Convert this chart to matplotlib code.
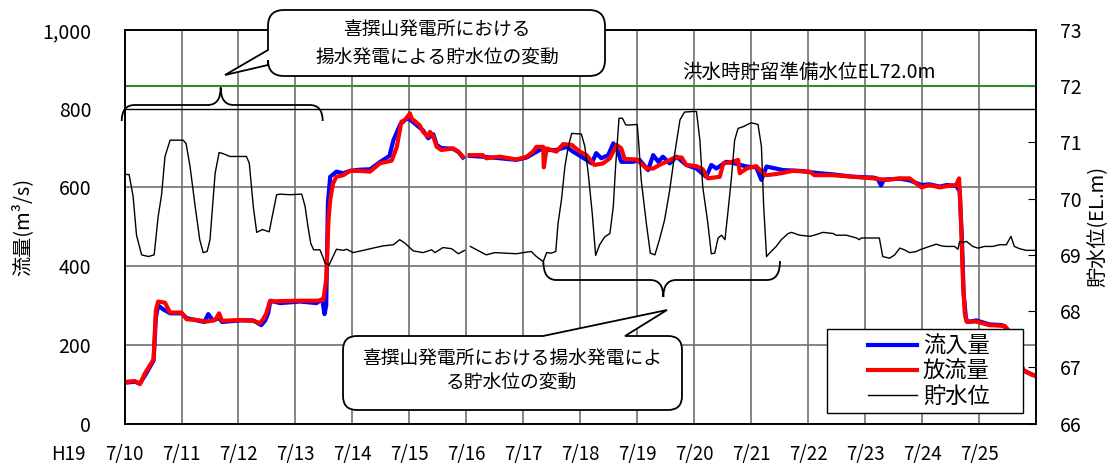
import numpy as np
import matplotlib
matplotlib.use("Agg")
import matplotlib.pyplot as plt
from matplotlib.path import Path
from matplotlib.patches import PathPatch, Rectangle

plt.rcParams['font.family'] = ['Noto Sans CJK JP', 'DejaVu Sans']

# x = days after H19 7/10 0:00
day_labels = ['7/%d' % d for d in range(10, 26)]

# 放流量 (m3/s)
outflow = [(0.03, 106), (0.18, 108), (0.27, 100), (0.36, 128), (0.45, 149), (0.51, 163),
           (0.55, 288), (0.59, 310), (0.71, 307), (0.80, 282), (1.00, 282), (1.09, 265),
           (1.27, 263), (1.44, 259), (1.59, 263), (1.66, 280), (1.71, 261), (2.03, 263),
           (2.26, 261), (2.38, 255), (2.44, 267), (2.49, 280), (2.55, 310), (2.73, 311),
           (3.08, 312), (3.37, 312), (3.49, 314), (3.54, 365), (3.58, 517), (3.61, 568),
           (3.66, 610), (3.72, 627), (3.84, 631), (3.96, 642), (4.13, 642), (4.31, 640),
           (4.48, 661), (4.69, 668), (4.78, 703), (4.86, 767), (4.92, 771), (5.01, 788),
           (5.04, 775), (5.18, 758), (5.24, 741), (5.33, 729), (5.36, 741), (5.42, 729),
           (5.48, 703), (5.56, 695), (5.77, 699), (5.86, 691), (5.94, 678), (6.00, np.nan),
           (6.06, 682), (6.29, 682), (6.35, 674), (6.59, 678), (6.88, 671), (7.06, 678),
           (7.17, 691), (7.23, 703), (7.35, 703), (7.36, 651), (7.41, 699), (7.58, 691),
           (7.70, 710), (7.85, 708), (7.99, 691), (8.11, 682), (8.25, 657), (8.40, 661),
           (8.52, 674), (8.64, 708), (8.72, 699), (8.78, 672), (8.99, 671), (9.16, 648),
           (9.28, 648), (9.39, 657), (9.51, 665), (9.66, 676), (9.78, 676), (9.86, 657),
           (10.04, 654), (10.15, 646), (10.24, 623), (10.45, 627), (10.51, 661), (10.68, 665),
           (10.77, 670), (10.80, 636), (10.92, 648), (11.09, 654), (11.21, 636), (11.27, 631),
           (11.44, 634), (11.56, 637), (11.73, 642), (12.03, 640), (12.11, 631), (12.44, 631),
           (12.79, 627), (13.14, 623), (13.37, 619), (13.61, 623), (13.78, 623), (13.99, 600),
           (14.13, 606), (14.31, 600), (14.43, 603), (14.60, 606), (14.65, 623), (14.67, 568),
           (14.72, 356), (14.75, 280), (14.78, 259), (14.95, 259), (15.18, 250), (15.45, 248),
           (15.51, 238), (15.65, 180), (15.78, 136), (15.94, 123), (16.00, 122)]

# 流入量 (m3/s)
inflow = [(0.03, 104), (0.18, 106), (0.27, 102), (0.36, 122), (0.45, 145), (0.51, 160),
          (0.55, 270), (0.59, 300), (0.68, 290), (0.80, 280), (1.00, 280), (1.09, 268),
          (1.27, 262), (1.40, 258), (1.47, 278), (1.55, 262), (1.66, 268), (1.71, 258),
          (2.03, 262), (2.26, 262), (2.40, 250), (2.47, 262), (2.52, 280), (2.56, 312),
          (2.73, 306), (3.08, 310), (3.37, 306), (3.47, 316), (3.51, 278), (3.54, 300),
          (3.57, 560), (3.61, 627), (3.72, 640), (3.84, 636), (3.96, 642), (4.13, 645),
          (4.31, 646), (4.48, 664), (4.65, 680), (4.72, 720), (4.84, 760), (4.95, 775),
          (5.03, 770), (5.18, 752), (5.24, 745), (5.33, 725), (5.42, 735), (5.48, 708),
          (5.56, 700), (5.77, 698), (5.86, 690), (5.94, 676), (6.00, np.nan), (6.06, 680),
          (6.29, 678), (6.59, 674), (6.88, 670), (7.06, 676), (7.20, 688), (7.35, 700),
          (7.41, 695), (7.58, 695), (7.76, 703), (7.87, 691), (8.02, 678), (8.20, 661),
          (8.28, 687), (8.37, 674), (8.49, 682), (8.58, 712), (8.66, 691), (8.72, 665),
          (8.93, 665), (9.04, 670), (9.19, 644), (9.28, 682), (9.37, 665), (9.45, 678),
          (9.57, 661), (9.69, 678), (9.86, 657), (10.04, 648), (10.21, 627), (10.30, 657),
          (10.39, 648), (10.56, 665), (10.71, 661), (10.92, 653), (11.09, 651), (11.18, 619),
          (11.27, 653), (11.56, 644), (11.85, 642), (12.20, 636), (12.44, 633), (12.79, 627),
          (13.14, 625), (13.22, 622), (13.28, 605), (13.33, 620), (13.61, 622), (13.78, 618),
          (13.99, 606), (14.13, 608), (14.31, 602), (14.43, 606), (14.60, 604), (14.66, 590),
          (14.70, 470), (14.73, 330), (14.77, 268), (14.80, 258), (14.95, 262), (15.18, 252),
          (15.40, 250), (15.45, 246), (15.51, 236), (15.65, 180), (15.78, 134), (15.94, 124),
          (16.00, 120)]

# 貯水位 (EL.m)
level = [(0.03, 70.43), (0.08, 70.43), (0.15, 70.04), (0.21, 69.35), (0.30, 69.00), (0.42, 68.97),
         (0.52, 69.00), (0.59, 69.68), (0.65, 70.07), (0.71, 70.75), (0.80, 71.04), (1.03, 71.04),
         (1.08, 70.98), (1.15, 70.57), (1.24, 69.86), (1.32, 69.27), (1.38, 69.04), (1.45, 69.06),
         (1.50, 69.27), (1.59, 70.45), (1.66, 70.82), (1.73, 70.80), (1.85, 70.75), (2.14, 70.75),
         (2.19, 70.63), (2.26, 69.86), (2.32, 69.40), (2.42, 69.45), (2.54, 69.41), (2.58, 69.62),
         (2.67, 70.07), (2.73, 70.08), (2.90, 70.07), (3.11, 70.08), (3.17, 69.86), (3.22, 69.50),
         (3.27, 69.20), (3.32, 69.09), (3.43, 69.09), (3.49, 68.94), (3.52, 68.85), (3.59, 68.82),
         (3.66, 68.97), (3.72, 69.10), (3.84, 69.08), (3.90, 69.10), (4.01, 69.04), (4.19, 69.08),
         (4.36, 69.12), (4.54, 69.16), (4.72, 69.18), (4.83, 69.27), (4.92, 69.21), (5.07, 69.07),
         (5.24, 69.04), (5.39, 69.09), (5.45, 69.04), (5.59, 69.13), (5.74, 69.11), (5.86, 69.02),
         (5.97, 69.08), (6.02, np.nan), (6.07, 69.15), (6.24, 69.06), (6.35, 69.00), (6.50, 69.04),
         (6.71, 69.03), (6.88, 69.02), (7.00, 69.04), (7.14, 69.06), (7.23, 68.97), (7.35, 68.88),
         (7.41, 69.04), (7.49, 69.03), (7.57, 69.06), (7.61, 69.56), (7.67, 69.98), (7.73, 70.57),
         (7.79, 70.93), (7.85, 71.16), (8.02, 71.15), (8.08, 70.93), (8.14, 70.45), (8.21, 69.74),
         (8.27, 68.99), (8.34, 69.18), (8.43, 69.32), (8.52, 69.38), (8.58, 69.86), (8.62, 70.57),
         (8.68, 71.43), (8.74, 71.43), (8.80, 71.31), (8.87, 71.31), (9.00, 71.32), (9.03, 70.93),
         (9.07, 70.33), (9.16, 69.56), (9.23, 69.03), (9.31, 69.00), (9.39, 69.27), (9.48, 69.62),
         (9.57, 70.15), (9.66, 70.81), (9.75, 71.40), (9.83, 71.54), (9.98, 71.55), (10.04, 71.55),
         (10.10, 71.04), (10.15, 70.21), (10.24, 69.56), (10.30, 69.02), (10.36, 69.03), (10.42, 69.30),
         (10.48, 69.35), (10.54, 69.27), (10.59, 69.74), (10.65, 70.33), (10.71, 71.04), (10.77, 71.25),
         (10.86, 71.28), (11.00, 71.35), (11.12, 71.32), (11.18, 70.93), (11.22, 69.86), (11.27, 68.97),
         (11.35, 69.06), (11.44, 69.15), (11.53, 69.27), (11.65, 69.38), (11.71, 69.40), (11.85, 69.35),
         (12.03, 69.33), (12.11, 69.35), (12.26, 69.40), (12.44, 69.38), (12.49, 69.35), (12.67, 69.35),
         (12.85, 69.30), (12.90, 69.27), (12.93, 69.30), (13.14, 69.30), (13.25, 69.30), (13.31, 68.97),
         (13.43, 68.94), (13.52, 69.00), (13.61, 69.12), (13.69, 69.09), (13.78, 69.04), (13.90, 69.06),
         (13.96, 69.09), (14.13, 69.15), (14.25, 69.19), (14.34, 69.16), (14.42, 69.15), (14.57, 69.15),
         (14.63, 69.10), (14.66, 69.24), (14.72, 69.22), (14.78, 69.24), (14.89, 69.15), (14.98, 69.12),
         (15.10, 69.15), (15.24, 69.15), (15.36, 69.18), (15.48, 69.18), (15.56, 69.33), (15.62, 69.15),
         (15.71, 69.11), (15.83, 69.08), (15.97, 69.08)]

flood_level = 72.0

note_top = '喜撰山発電所における\n揚水発電による貯水位の変動'
note_bottom = '喜撰山発電所における揚水発電によ\nる貯水位の変動'

grid_c = '#707070'

fig = plt.figure(figsize=(11.16, 4.67), dpi=100)
ax1 = fig.add_axes([0.1116, 0.0931, 0.8167, 0.8427])
ax2 = ax1.twinx()

d_in, q_in = np.array(inflow).T
d_out, q_out = np.array(outflow).T
d_lv, el = np.array(level).T

l_in, = ax1.plot(d_in, q_in, color='#0000ff', lw=3.0, label='流入量', zorder=3)
l_out, = ax1.plot(d_out, q_out, color='#ff0000', lw=3.0, label='放流量', zorder=4)
l_lv, = ax2.plot(d_lv, el, color='black', lw=1.0, label='貯水位', zorder=3)

ax2.axhline(flood_level, color='#2e8b2e', lw=1.5, zorder=2)
ax2.text(14.24, flood_level + 0.05, '洪水時貯留準備水位EL72.0m', ha='right', va='bottom',
         fontsize=14)

ax1.set_xlim(0, 16)
ax1.set_ylim(0, 1000)
ax2.set_ylim(66, 73)
ax1.set_xticks(range(16))
ax1.set_xticklabels(day_labels, fontsize=13.5)
ax1.set_yticks(range(0, 1001, 200))
ax1.set_yticklabels(['0', '200', '400', '600', '800', '1,000'], fontsize=14)
ax2.set_yticks(range(66, 74))
ax2.set_yticklabels([str(v) for v in range(66, 74)], fontsize=14)

ax1.tick_params(axis='x', length=0, pad=15)
ax1.tick_params(axis='y', length=0, pad=24)
ax2.tick_params(axis='y', direction='in', length=6, pad=17)

ax1.grid(True, color=grid_c, lw=1.2)
ax1.set_axisbelow(True)
ax1.get_ygridlines()[4].set_color('black')
ax1.get_ygridlines()[4].set_linewidth(1.0)

for ax in (ax1, ax2):
    for s in ax.spines.values():
        s.set_color('black')
        s.set_linewidth(1.2)

ax1.set_ylabel('流量(m³/s)', fontsize=14.5)
ax2.set_ylabel('貯水位(EL.m)', fontsize=14.5)
ax1.yaxis.set_label_coords(-0.1005, 0.5)
ax2.yaxis.set_label_coords(1.056, 0.5)

fig.text(68 / 1116, 1 - 454 / 467, 'H19', ha='center', va='center', fontsize=13.5)

# legend box (frame drawn separately so the entries sit centred in a wide box)
ax2.add_patch(Rectangle((0.771, 0.027), 0.215, 0.213, transform=ax2.transAxes,
                        fc='white', ec='black', lw=1.0, zorder=9))
leg = ax2.legend(handles=[l_in, l_out, l_lv], loc='center',
                 bbox_to_anchor=(0.8826, 0.133), borderaxespad=0, fontsize=16,
                 frameon=False, handlelength=2.2, handletextpad=0.25, labelspacing=0.1,
                 borderpad=0)
leg.set_zorder(10)

# overlay in pixel units for the callouts and braces
ov = fig.add_axes([0, 0, 1, 1])
ov.set_xlim(0, 1116)
ov.set_ylim(467, 0)
ov.axis('off')


def callout(x0, y0, x1, y1, side, a, b, tip, r=13):
    v = [(x0 + r, y0)]
    c = [Path.MOVETO]
    if side == 'top':
        v += [(a, y0), tip, (b, y0)]
        c += [Path.LINETO] * 3
    v += [(x1 - r, y0), (x1, y0), (x1, y0 + r), (x1, y1 - r), (x1, y1), (x1 - r, y1),
          (x0 + r, y1), (x0, y1), (x0, y1 - r)]
    c += [Path.LINETO, Path.CURVE3, Path.CURVE3, Path.LINETO, Path.CURVE3, Path.CURVE3,
          Path.LINETO, Path.CURVE3, Path.CURVE3]
    if side == 'left':
        v += [(x0, b), tip, (x0, a)]
        c += [Path.LINETO] * 3
    v += [(x0, y0 + r), (x0, y0), (x0 + r, y0), (x0 + r, y0)]
    c += [Path.LINETO, Path.CURVE3, Path.CURVE3, Path.CLOSEPOLY]
    ov.add_patch(PathPatch(Path(v, c), fc='white', ec='black', lw=1.3, zorder=5))


def brace(xl, xr, xt, yb, yt, ytip, r=13):
    v = [(xl, yb), (xl, yt), (xl + r, yt), (xt - r, yt), (xt, yt), (xt, ytip),
         (xt, yt), (xt + r, yt), (xr - r, yt), (xr, yt), (xr, yb)]
    c = [Path.MOVETO, Path.CURVE3, Path.CURVE3, Path.LINETO, Path.CURVE3, Path.CURVE3,
         Path.CURVE3, Path.CURVE3, Path.LINETO, Path.CURVE3, Path.CURVE3]
    ov.add_patch(PathPatch(Path(v, c), fc='none', ec='black', lw=1.3, zorder=5))


callout(268, 10, 605, 76, 'left', 50, 65, (225, 75), r=16)
ov.text(437, 44, note_top, ha='center', va='center', fontsize=13.5, linespacing=1.45, zorder=6)
brace(121.7, 322.7, 220.7, 121, 105, 87.5)

callout(343, 336, 682, 410, 'top', 543, 625, (667, 310), r=14)
ov.text(512, 371, note_bottom, ha='center', va='center', fontsize=13.5, linespacing=1.2, zorder=6)
brace(543.3, 780, 663.3, 261, 280, 297)

fig.savefig('out.png', dpi=100)
